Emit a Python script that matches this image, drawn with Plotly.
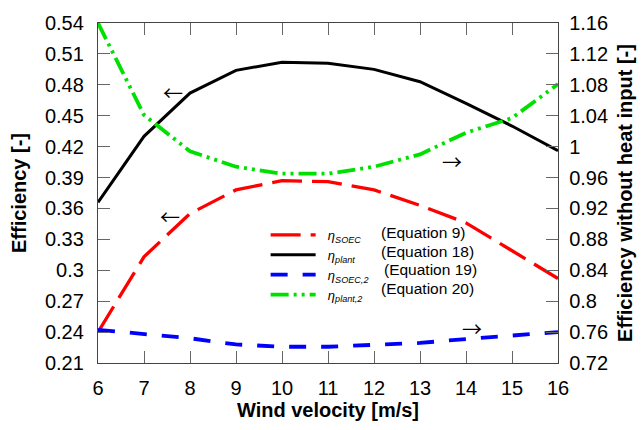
import plotly.graph_objects as go

wind = [6, 7, 8, 9, 10, 11, 12, 13, 14, 15, 16]
eta_soec = [0.240, 0.313, 0.355, 0.378, 0.387, 0.386, 0.378, 0.363, 0.346, 0.319, 0.292]
eta_plant = [0.366, 0.430, 0.472, 0.494, 0.502, 0.501, 0.495, 0.483, 0.462, 0.440, 0.416]
eta_soec2 = [0.763, 0.758, 0.752, 0.744, 0.741, 0.741, 0.743, 0.746, 0.751, 0.755, 0.760]
eta_plant2 = [1.160, 1.041, 0.994, 0.974, 0.965, 0.965, 0.974, 0.990, 1.018, 1.037, 1.081]

left_ticks = [0.21, 0.24, 0.27, 0.30, 0.33, 0.36, 0.39, 0.42, 0.45, 0.48, 0.51, 0.54]
left_text = ["0.21", "0.24", "0.27", "0.3", "0.33", "0.36", "0.39", "0.42", "0.45", "0.48", "0.51", "0.54"]
right_ticks = [0.72, 0.76, 0.80, 0.84, 0.88, 0.92, 0.96, 1.00, 1.04, 1.08, 1.12, 1.16]
right_text = ["0.72", "0.76", "0.8", "0.84", "0.88", "0.92", "0.96", "1", "1.04", "1.08", "1.12", "1.16"]
equations = ["(Equation 9)", "(Equation 18)", "(Equation 19)", "(Equation 20)"]

FONT = "Liberation Sans, Arial, sans-serif"

fig = go.Figure()
fig.add_trace(go.Scatter(x=wind, y=eta_soec, mode="lines", name="&nbsp;&nbsp;<i>η<sub>SOEC</sub></i>",
                         line=dict(color="#FF0000", width=3.3, dash="30px,10px")))
fig.add_trace(go.Scatter(x=wind, y=eta_plant, mode="lines", name="&nbsp;&nbsp;<i>η<sub>plant</sub></i>",
                         line=dict(color="#000000", width=3)))
fig.add_trace(go.Scatter(x=wind, y=eta_soec2, mode="lines", name="&nbsp;&nbsp;<i>η<sub>SOEC,2</sub></i>", yaxis="y2",
                         line=dict(color="#0000FF", width=3.8, dash="17px,15px")))
fig.add_trace(go.Scatter(x=wind, y=eta_plant2, mode="lines", name="&nbsp;&nbsp;<i>η<sub>plant,2</sub></i>", yaxis="y2",
                         line=dict(color="#00E000", width=3.8, dash="18px,5px,3px,5px,3px,5px")))

L, R, T, B = 98, 85, 16, 67
W, H = 644, 430
pw, ph = W - L - R, H - T - B

def px(x):
    return (x - L) / pw

def py(y):
    return (H - B - y) / ph

annotations = []
eq_rows = [230, 249, 268, 287]
eq_x = [380, 380, 383, 380]
for txt, yy, xx in zip(equations, eq_rows, eq_x):
    annotations.append(dict(text=txt, x=px(xx), y=py(yy), xref="paper", yref="paper",
                            xanchor="left", yanchor="middle", showarrow=False,
                            font=dict(family=FONT, size=15.5, color="#000")))
arrows = [("←", 173, 87), ("←", 170, 213), ("→", 453, 157), ("→", 473, 328)]
for t, xx, yy in arrows:
    annotations.append(dict(text=t, x=px(xx), y=py(yy), xref="paper", yref="paper",
                            xanchor="center", yanchor="middle", showarrow=False,
                            font=dict(family="Noto Sans CJK JP", size=20, color="#000")))

axis_common = dict(showgrid=False, zeroline=False, showline=True, linecolor="#444", linewidth=1.3,
                   ticks="inside", ticklen=12, tickcolor="#666", tickwidth=1.3,
                   tickfont=dict(family=FONT, size=20, color="#000"))

fig.update_layout(
    width=W, height=H,
    margin=dict(l=L, r=R, t=T, b=B),
    paper_bgcolor="white", plot_bgcolor="white",
    showlegend=True,
    legend=dict(x=px(266), y=py(217), xanchor="left", yanchor="top",
                bgcolor="rgba(0,0,0,0)", font=dict(family=FONT, size=13, color="#000"),
                itemwidth=45, tracegroupgap=0),
    xaxis=dict(range=[6, 16], dtick=1, mirror="ticks", ticklabelstandoff=7,
               title=dict(text="<b>Wind velocity [m/s]</b>", font=dict(family=FONT, size=20, color="#000"), standoff=2),
               **axis_common),
    yaxis=dict(range=[0.21, 0.54], tickvals=left_ticks, ticktext=left_text, ticklabelstandoff=9,
               title=dict(text="<b>Efficiency [-]</b>", font=dict(family=FONT, size=20, color="#000"), standoff=12),
               **axis_common),
    yaxis2=dict(range=[0.72, 1.16], tickvals=right_ticks, ticktext=right_text, overlaying="y", side="right",
                ticklabelstandoff=6,
                title=dict(text="<b>Efficiency without heat input [-]</b>", font=dict(family=FONT, size=20, color="#000"), standoff=10),
                **axis_common),
    annotations=annotations,
)

fig.write_html("out.html", config={"displayModeBar": False},
               post_script="document.body.style.margin='0px';document.body.style.overflow='hidden';")
